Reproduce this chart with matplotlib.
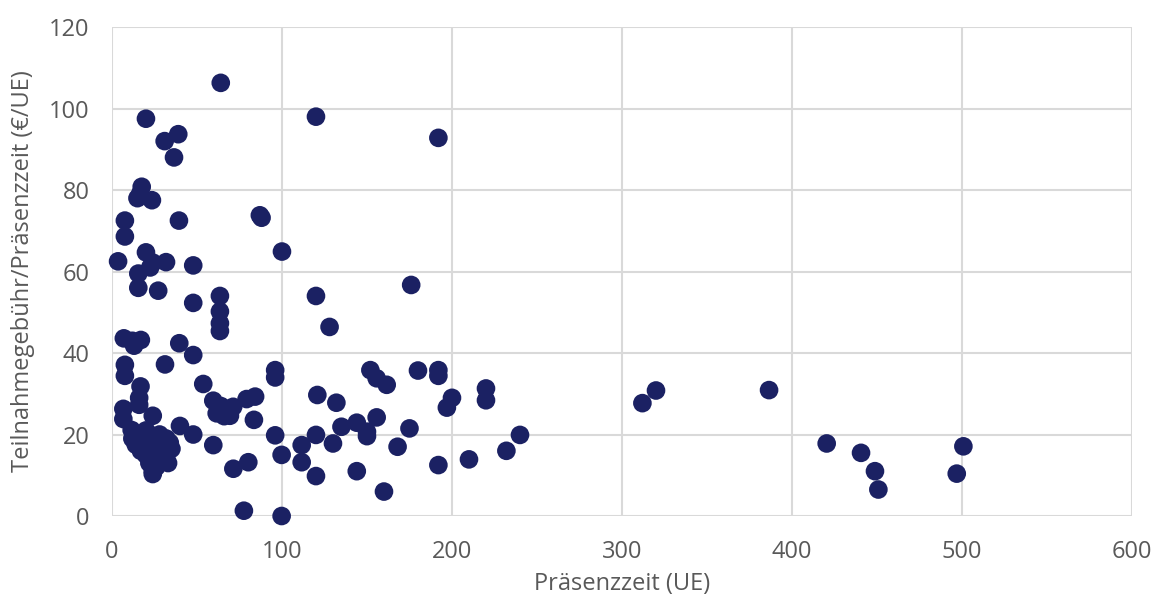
import matplotlib.pyplot as plt

# Präsenzzeit (UE) and Teilnahmegebühr per UE
praesenz_hoch = [64, 20, 120, 192, 31, 39, 36.5,
                 17.5, 16.5, 15, 23.5,
                 7.6, 7.6, 39.4, 87, 88, 100,
                 3.6, 20, 24, 31.8, 47.8, 15.5, 22.5,
                 15.5, 27.2, 47.8, 63.5, 63.5, 63.5, 63.5, 120, 128, 176]
gebuehr_hoch = [106.3, 97.5, 98, 92.8, 92, 93.7, 88,
                80.8, 79, 78, 77.5,
                72.5, 68.6, 72.5, 73.8, 73.2, 64.9,
                62.5, 64.7, 62.2, 62.3, 61.5, 59.5, 61,
                56, 55.3, 52.3, 54, 50.2, 47.3, 45.4, 54, 46.4, 56.7]

praesenz_mitte = [7, 12, 17, 13, 39.6, 47.8, 7.6, 7.6, 31.2, 16.8, 53.7, 96, 96, 16, 16,
                  59.6, 61.6, 64, 65.5, 69.4, 71.3, 79.2, 84.2, 83.5, 66,
                  120.8, 132, 135, 6.7, 6.7, 24, 40, 47.8, 59.6, 96, 111.6, 120, 130,
                  99.8, 111.6, 120, 71.4, 80.2, 77.6, 99.8,
                  152, 155.7, 161.6, 180, 192, 192, 200, 197, 220, 220, 155.7, 144,
                  150, 150, 175, 168, 240, 232, 192, 210, 144, 160]
gebuehr_mitte = [43.6, 43, 43.2, 41.8, 42.4, 39.5, 37.1, 34.4, 37.2, 31.8, 32.4, 35.8, 34, 29, 27.3,
                 28.3, 25.2, 27, 26.5, 24.6, 26.8, 28.7, 29.3, 23.6, 24.5,
                 29.7, 27.8, 21.9, 26.3, 23.8, 24.6, 22.1, 20, 17.4, 19.8, 17.4, 19.9, 17.8,
                 15, 13.2, 9.8, 11.6, 13.2, 1.3, 0,
                 35.8, 33.8, 32.2, 35.7, 35.8, 34.4, 29, 26.6, 31.3, 28.4, 24.2, 22.9,
                 20.7, 19.6, 21.5, 17, 19.9, 16, 12.5, 13.9, 11, 6]

# dichter Haufen bei kurzen Kursen
praesenz_haufen = [11.6, 12, 14, 15, 16, 17, 18, 19, 20, 20, 21, 22, 22, 23, 24, 24, 24,
                   25, 25, 26, 26, 27, 28, 28, 29, 30, 30, 31, 32, 32, 33, 34, 35]
gebuehr_haufen = [21.1, 19, 17.5, 20, 18, 16, 19, 17, 21, 15, 18, 13, 20, 16, 11, 10.3,
                  12.5, 14, 19, 17, 12, 15, 20, 13, 18, 16, 14, 17, 19, 15, 13, 18, 16.5]

praesenz_lang = [312, 320, 386.5, 420.4, 440.6, 448.8, 450.8, 500.8, 496.9]
gebuehr_lang = [27.7, 30.8, 30.9, 17.8, 15.5, 11, 6.5, 17.1, 10.4]

x = praesenz_hoch + praesenz_mitte + praesenz_haufen + praesenz_lang
y = gebuehr_hoch + gebuehr_mitte + gebuehr_haufen + gebuehr_lang

plt.rcParams['font.family'] = ['Open Sans', 'DejaVu Sans']

fig = plt.figure(figsize=(11.65, 6.06), dpi=100)
ax = fig.add_axes([0.0961, 0.1485, 0.8756, 0.8069])

ax.scatter(x, y, s=180, color='#1b2163', edgecolors='none', zorder=3, clip_on=False)

ax.set_xlim(0, 600)
ax.set_ylim(0, 120)
ax.set_xticks(range(0, 601, 100))
ax.set_yticks(range(0, 121, 20))

ax.grid(True, color='#d9d9d9', linewidth=1.5)
ax.set_axisbelow(True)
for s in ax.spines.values():
    s.set_visible(False)
ax.tick_params(axis='x', length=0, labelsize=17, labelcolor='#595959', pad=17)
ax.tick_params(axis='y', length=0, labelsize=17, labelcolor='#595959', pad=16)

ax.set_xlabel('Präsenzzeit (UE)', fontsize=17, color='#595959', labelpad=6)
ax.set_ylabel('Teilnahmegebühr/Präsenzzeit (€/UE)', fontsize=17, color='#595959', labelpad=10)

fig.savefig('out.png', dpi=100, facecolor='white')
